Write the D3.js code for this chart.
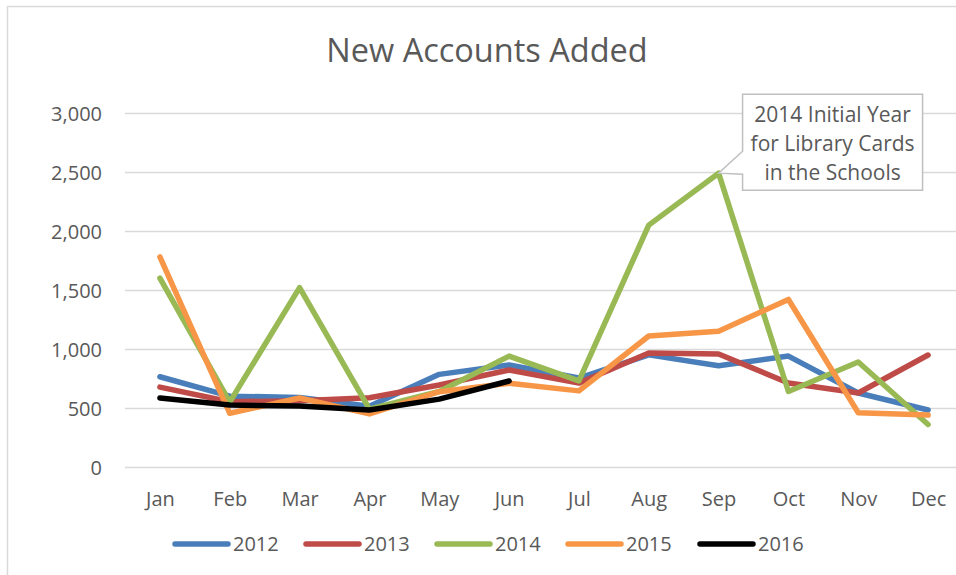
<!DOCTYPE html>
<html><head><meta charset="utf-8">
<script src="https://cdn.jsdelivr.net/npm/d3@7"></script>
<style>
html,body{margin:0;padding:0;background:#fff;}
svg{display:block;font-family:"Open Sans",sans-serif;}
</style></head>
<body>
<svg id="chart" width="956" height="575"></svg>
<script>
const months = ["Jan","Feb","Mar","Apr","May","Jun","Jul","Aug","Sep","Oct","Nov","Dec"];
const years = ["2012","2013","2014","2015","2016"];
const v2012 = [765, 600, 590, 515, 785, 864, 754, 950, 858, 940, 627, 483];
const v2013 = [677, 553, 562, 587, 695, 822, 711, 966, 958, 712, 627, 949];
const v2014 = [1600, 550, 1520, 490, 640, 940, 730, 2050, 2490, 640, 890, 360];
const v2015 = [1780, 455, 585, 450, 638, 710, 645, 1110, 1150, 1420, 460, 440];
const v2016 = [585, 525, 517, 483, 575, 729];
const yTicks = [0, 500, 1000, 1500, 2000, 2500, 3000];
const colors = ["#4a7ebb", "#be4b48", "#98b954", "#f79646", "#000000"];
const title = "New Accounts Added";
const noteLines = ["2014 Initial Year", "for Library Cards", "in the Schools"];
const noteMonth = "Sep";
const noteValue = v2014[8];

const seriesVals = [v2012, v2013, v2014, v2015, v2016];
const series = years.map((y, i) => ({name: y, color: colors[i], values: seriesVals[i]}));

const svg = d3.select("#chart");
const textColor = "#595959";

// outer border
svg.append("rect").attr("x", 7.5).attr("y", 6.5).attr("width", 1000).attr("height", 1000)
  .attr("fill", "none").attr("stroke", "#d9d9d9").attr("stroke-width", 1.5);

const x = d3.scalePoint().domain(months).range([125, 963]).padding(0.5);
const y = d3.scaleLinear().domain([0, 3000]).range([467, 113]);

// title
svg.append("text").attr("x", 487).attr("y", 62).attr("text-anchor", "middle")
  .attr("fill", textColor).style("font-size", "32.5px").text(title);

// gridlines
svg.append("g").selectAll("line").data(yTicks).join("line")
  .attr("x1", 125).attr("x2", 963)
  .attr("y1", d => Math.round(y(d)) + 0.5).attr("y2", d => Math.round(y(d)) + 0.5)
  .attr("stroke", "#d9d9d9").attr("stroke-width", 1.5);

// y axis labels
const yAxis = d3.axisLeft(y).tickValues(yTicks).tickFormat(d3.format(",")).tickSize(0).tickPadding(0);
const gy = svg.append("g").attr("transform", "translate(102,0)").call(yAxis);
gy.select(".domain").remove();
gy.selectAll("text").attr("fill", textColor).style("font-size", "20px")
  .style("font-family", "'Open Sans',sans-serif").attr("dy", "0.35em");

// x axis labels
const xAxis = d3.axisBottom(x).tickSize(0).tickPadding(0);
const gx = svg.append("g").attr("transform", "translate(0,506)").call(xAxis);
gx.select(".domain").remove();
gx.selectAll("text").attr("fill", textColor).style("font-size", "20px")
  .style("font-family", "'Open Sans',sans-serif").attr("dy", "0");

// lines
const line = d3.line().x((d, i) => x(months[i])).y(d => y(d));
svg.append("g").selectAll("path").data(series).join("path")
  .attr("d", d => line(d.values))
  .attr("fill", "none").attr("stroke", d => d.color).attr("stroke-width", 5.5)
  .attr("stroke-linejoin", "round").attr("stroke-linecap", "round");

// callout
const px = x(noteMonth), py = y(noteValue);
const bx0 = px + 24, bx1 = px + 204, by0 = py - 79, by1 = py + 17;
svg.append("path")
  .attr("d", `M${bx0},${by0} H${bx1} V${by1} H${bx0} V${py + 1} L${px},${py} L${bx0},${py - 22} Z`)
  .attr("fill", "#fff").attr("stroke", "#bfbfbf").attr("stroke-width", 1.5);
svg.append("g").selectAll("text").data(noteLines).join("text")
  .attr("x", (bx0 + bx1) / 2).attr("y", (d, i) => py - 51 + i * 29)
  .attr("text-anchor", "middle").attr("fill", textColor).style("font-size", "21px").text(d => d);

// legend
const legX = [175, 306, 437, 568, 700];
const lg = svg.append("g").selectAll("g").data(series).join("g")
  .attr("transform", (d, i) => `translate(${legX[i]},544)`);
lg.append("line").attr("x1", 0).attr("x2", 53).attr("y1", 0).attr("y2", 0)
  .attr("stroke", d => d.color).attr("stroke-width", 5.5).attr("stroke-linecap", "round");
lg.append("text").attr("x", 58).attr("y", 7).attr("fill", textColor).style("font-size", "20px").text(d => d.name);
</script>
</body></html>
